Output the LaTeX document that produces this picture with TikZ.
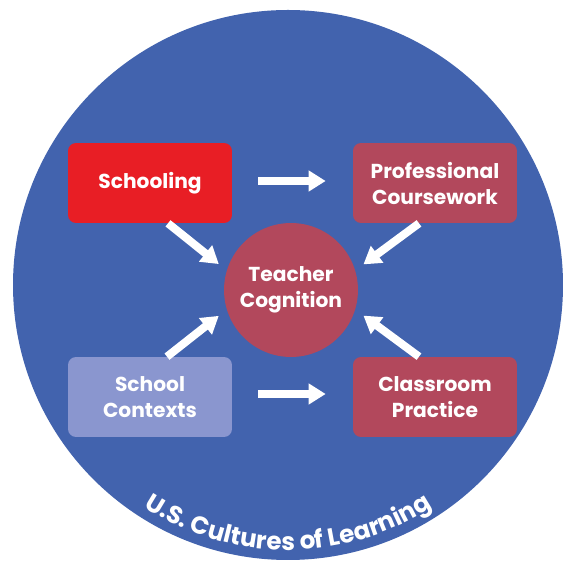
\documentclass[tikz,border=0pt]{standalone}
\usepackage{fontspec}
\setmainfont{Poppins}
\usetikzlibrary{arrows.meta}
\usetikzlibrary{decorations.text}

\definecolor{ringblue}{RGB}{66,99,174}
\definecolor{schoolred}{RGB}{232,30,37}
\definecolor{dustyred}{RGB}{178,72,92}
\definecolor{lavender}{RGB}{138,150,207}

\begin{document}
\begin{tikzpicture}[x=0.02cm, y=0.02cm]
        % Style definitions
        \tikzset{
            box/.style={rounded corners=0.16cm, minimum width=3.28cm, minimum height=1.6cm, inner sep=0pt,
                text=white, align=center, font=\bfseries\fontsize{11.5}{14.8}\selectfont},
            hub/.style={circle, minimum size=2.68cm, inner sep=0pt, fill=dustyred,
                text=white, align=center, font=\bfseries\fontsize{11.5}{14.8}\selectfont},
            arr/.style={white, line width=0.16cm, -{Triangle[length=0.34cm, width=0.4cm]}}
        }

        \useasboundingbox (0,0) rectangle (562,568);

        % ==========================================
        % OUTER RING
        % ==========================================

        \fill[ringblue] (288,283) circle[radius=275];
        \path[decorate, decoration={text along path, text align=center, text color=white,
            text={|\bfseries\fontsize{14}{16}\selectfont|U.S. Cultures of Learning}}]
            (288,283) ++(200:265) arc[start angle=200, end angle=340, radius=265];

        % ==========================================
        % NODES
        % ==========================================

        \node[box, fill=schoolred] (schooling) at (150,385) {Schooling};
        \node[box, fill=dustyred] (coursework) at (435,385) {Professional\\Coursework};
        \node[hub] (cognition) at (291,278) {Teacher\\Cognition};
        \node[box, fill=lavender] (contexts) at (150,171) {School\\Contexts};
        \node[box, fill=dustyred] (practice) at (435,171) {Classroom\\Practice};

        % ==========================================
        % ARROWS
        % ==========================================

        \draw[arr, shorten <=0.52cm, shorten >=0.54cm] ([yshift=0.04cm]schooling.east) -- ([yshift=0.04cm]coursework.west);
        \draw[arr, shorten <=0.52cm, shorten >=0.54cm] ([yshift=0.06cm]contexts.east) -- ([yshift=0.06cm]practice.west);

        \draw[arr, shorten >=0.2cm] ([xshift=0.36cm]schooling.south) -- (cognition.163);
        \draw[arr, shorten >=0.2cm] ([xshift=-0.32cm]coursework.south) -- (cognition.17);
        \draw[arr, shorten >=0.2cm] ([xshift=0.34cm]contexts.north) -- (cognition.197);
        \draw[arr, shorten >=0.2cm] ([xshift=-0.32cm]practice.north) -- (cognition.343);
    \end{tikzpicture}
\end{document}
